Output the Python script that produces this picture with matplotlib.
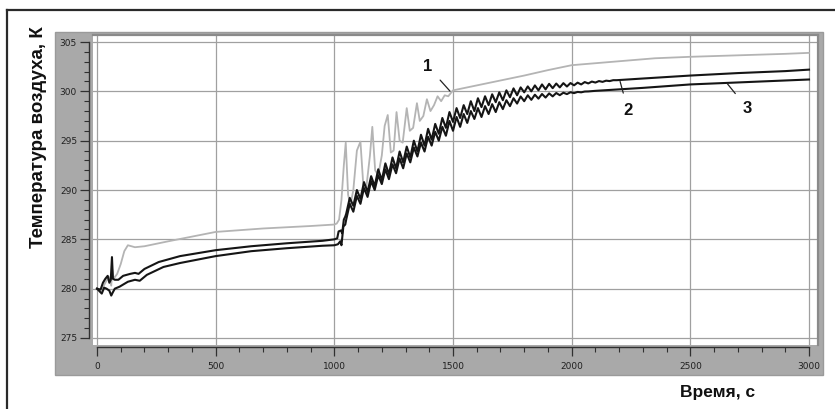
import numpy as np
import matplotlib
matplotlib.use("Agg")
import matplotlib.pyplot as plt
from matplotlib.patches import Rectangle
from matplotlib.lines import Line2D

# Curve 1 (light gray)
t1 = [0, 20, 35, 50, 60, 64, 70, 85, 100, 115, 130, 160, 200, 300, 500, 700, 900,
      1000, 1010, 1020, 1030, 1040, 1048, 1058, 1068, 1080, 1095, 1110, 1122, 1135,
      1150, 1160, 1172, 1185, 1200, 1212, 1225, 1238, 1250, 1262, 1275, 1288, 1305,
      1318, 1332, 1348, 1360, 1375, 1390, 1405, 1420, 1435, 1450, 1465, 1480, 1500,
      1600, 1700, 1800, 1900, 2000, 2100, 2200, 2350, 2500, 2700, 2900, 3000]
T1 = [280.0, 279.9, 280.6, 281.2, 280.3, 282.0, 281.0, 281.5, 282.5, 283.8, 284.4,
      284.2, 284.3, 284.8, 285.75, 286.1, 286.35,
      286.5, 286.6, 287.0, 289.0, 292.5, 294.8, 289.5, 288.5, 290.0, 294.0, 294.9,
      290.5, 290.3, 293.5, 296.4, 292.0, 291.5, 293.5, 296.5, 297.6, 293.8, 294.0,
      297.9, 295.0, 294.8, 298.3, 296.0, 296.3, 298.8, 297.0, 297.5, 299.2, 298.0,
      298.6, 299.5, 299.0, 299.6, 299.5, 300.1,
      300.6, 301.1, 301.6, 302.15, 302.65, 302.85, 303.05, 303.35, 303.5, 303.65,
      303.8, 303.9]

# Curve 2 (black, upper)
t2 = [0, 15, 25, 35, 45, 52, 58, 63, 67, 75, 90, 110, 140, 160, 175, 200, 260, 350,
      500, 650, 800, 950, 1000, 1012, 1018, 1028, 1033, 1040, 1046,
      1050, 1065, 1080, 1095, 1110, 1125, 1140, 1155, 1170, 1185, 1200, 1215, 1230,
      1245, 1260, 1275, 1290, 1305, 1320, 1335, 1350, 1365, 1380, 1395, 1410, 1425,
      1440, 1455, 1470, 1485, 1500, 1515, 1530, 1545, 1560, 1575, 1590, 1605, 1620,
      1635, 1650, 1665, 1680, 1695, 1710, 1725, 1740, 1755, 1770, 1785, 1800, 1815,
      1830, 1845, 1860, 1875, 1890, 1905, 1920, 1935, 1950, 1965, 1980, 1995, 2010,
      2025, 2040, 2055, 2070, 2085, 2100, 2115, 2130, 2145, 2160, 2175, 2190,
      2300, 2500, 2700, 2900, 3000]
T2 = [280.0, 279.9, 280.6, 281.0, 281.3, 280.6, 280.9, 283.2, 281.0, 280.9, 280.9,
      281.3, 281.5, 281.6, 281.5, 282.0, 282.7, 283.3, 283.9, 284.3, 284.6, 284.85,
      285.0, 285.1, 285.8, 285.9, 285.6, 287.0, 287.3,
      287.6, 289.2, 288.4, 290.0, 289.1, 290.8, 289.8, 291.4, 290.4, 292.1, 291.0,
      292.7, 291.6, 293.3, 292.2, 293.9, 292.8, 294.4, 293.3, 295.0, 293.9, 295.6,
      294.5, 296.2, 295.1, 296.7, 295.7, 297.3, 296.3, 297.9, 296.9, 298.3, 297.3,
      298.6, 297.7, 299.0, 298.0, 299.3, 298.4, 299.5, 298.6, 299.7, 298.9, 299.9,
      299.1, 300.1, 299.4, 300.3, 299.6, 300.4, 299.9, 300.5, 300.0, 300.6, 300.1,
      300.7, 300.2, 300.76, 300.32, 300.79, 300.40, 300.83, 300.49, 300.84, 300.61,
      300.88, 300.70, 300.94, 300.80, 300.99, 300.89, 301.04, 300.96, 301.08, 301.04,
      301.13, 301.13,
      301.3, 301.6, 301.85, 302.05, 302.2]

# Curve 3 (black, lower)
t3 = [0, 12, 20, 30, 40, 52, 60, 66, 75, 95, 130, 160, 180, 210, 280, 350, 500, 650,
      800, 950, 1000, 1015, 1025, 1030, 1038, 1046,
      1050, 1065, 1080, 1095, 1110, 1125, 1140, 1155, 1170, 1185, 1200, 1215, 1230,
      1245, 1260, 1275, 1290, 1305, 1320, 1335, 1350, 1365, 1380, 1395, 1410, 1425,
      1440, 1455, 1470, 1485, 1500, 1515, 1530, 1545, 1560, 1575, 1590, 1605, 1620,
      1635, 1650, 1665, 1680, 1695, 1710, 1725, 1740, 1755, 1770, 1785, 1800, 1815,
      1830, 1845, 1860, 1875, 1890, 1905, 1920, 1935, 1950, 1965, 1980, 1995, 2010,
      2025, 2040, 2055, 2070, 2085, 2100,
      2200, 2300, 2500, 2700, 2900, 3000]
T3 = [280.0, 279.7, 279.5, 280.1, 280.0, 279.8, 279.3, 279.6, 280.0, 280.2, 280.7,
      280.9, 280.8, 281.4, 282.2, 282.6, 283.3, 283.8, 284.1, 284.35, 284.4, 284.5,
      284.8, 284.4, 286.3, 286.5,
      287.0, 288.6, 287.8, 289.4, 288.6, 290.2, 289.3, 290.9, 290.0, 291.5, 290.6,
      292.1, 291.1, 292.6, 291.7, 293.2, 292.2, 293.7, 292.8, 294.3, 293.4, 294.8,
      293.9, 295.4, 294.5, 295.9, 295.0, 296.4, 295.5, 297.0, 296.0, 297.4, 296.4,
      297.7, 296.8, 298.0, 297.2, 298.3, 297.4, 298.5, 297.7, 298.7, 297.9, 298.9,
      298.2, 299.1, 298.5, 299.3, 298.76, 299.48, 299.0, 299.6, 299.14, 299.66,
      299.26, 299.73, 299.37, 299.79, 299.49, 299.83, 299.61, 299.86, 299.72, 299.91,
      299.82, 299.94, 299.9, 299.98, 299.99, 300.02, 300.05,
      300.2, 300.35, 300.7, 300.9, 301.1, 301.2]

x_ticks = [0, 500, 1000, 1500, 2000, 2500, 3000]
y_ticks = [275, 280, 285, 290, 295, 300, 305]

W, H = 835, 409
fig = plt.figure(figsize=(W / 100, H / 100), dpi=100)
fig.patch.set_facecolor("white")

# outer frame (left and top only are visible)
fig.add_artist(Line2D([7 / W, 7 / W], [0, 1 - 10 / H], color="#2a2a2a", lw=1.6))
fig.add_artist(Line2D([7 / W, 1], [1 - 10 / H, 1 - 10 / H], color="#2a2a2a", lw=1.6))

# gray chart panel
fig.add_artist(Rectangle((55 / W, 1 - 375 / H), 768 / W, 343 / H,
                         transform=fig.transFigure, facecolor="#a9a9a9",
                         edgecolor="#9a9a9a", lw=1, zorder=0))

ax = fig.add_axes([93 / W, 1 - 345 / H, 725 / W, 310 / H])
ax.set_facecolor("white")
ax.set_zorder(2)

ax.plot(t1, T1, color="#b4b4b4", lw=1.3, zorder=3)
ax.plot(t2, T2, color="#151515", lw=1.5, zorder=4)
ax.plot(t3, T3, color="#151515", lw=1.5, zorder=4)

ax.set_xlim(-16.9, 3037.9)
ax.set_ylim(274.29, 305.71)
ax.set_xticks(x_ticks)
ax.set_yticks(y_ticks)
ax.set_xticks(np.arange(0, 3001, 100), minor=True)
ax.set_yticks(np.arange(275, 306, 1), minor=True)
ax.grid(True, which="major", color="#a0a0a0", lw=0.9)
ax.set_axisbelow(True)

for s in ["top", "right"]:
    ax.spines[s].set_color("#8a8a8a")
    ax.spines[s].set_linewidth(1.6)
ax.spines["left"].set_position(("outward", 3))
ax.spines["left"].set_bounds(275, 305)
ax.spines["bottom"].set_position(("outward", 1.5))
ax.spines["bottom"].set_bounds(0, 3000)
for s in ["left", "bottom"]:
    ax.spines[s].set_color("#303030")
    ax.spines[s].set_linewidth(1.0)

ax.tick_params(axis="both", which="major", direction="out", length=6.5, width=0.9,
               color="#303030", labelsize=6.5, labelcolor="#202020")
ax.tick_params(axis="both", which="minor", direction="out", length=3.5, width=0.8,
               color="#303030")
ax.tick_params(axis="y", which="major", pad=2)
ax.tick_params(axis="x", which="major", pad=4)

lab_font = dict(family="Liberation Sans", fontsize=12, fontweight="bold", color="#111111")
ax.annotate("1", xy=(1487, 300.03), xytext=(1395, 302.5), ha="center", va="center",
            arrowprops=dict(arrowstyle="-", color="#222222", lw=0.9, shrinkA=5, shrinkB=0),
            zorder=6, **lab_font)
ax.annotate("2", xy=(2204, 301.0), xytext=(2237, 298.1), ha="center", va="center",
            arrowprops=dict(arrowstyle="-", color="#222222", lw=0.9, shrinkA=5, shrinkB=0),
            zorder=6, **lab_font)
ax.annotate("3", xy=(2655, 300.8), xytext=(2739, 298.3), ha="center", va="center",
            arrowprops=dict(arrowstyle="-", color="#222222", lw=0.9, shrinkA=5, shrinkB=0),
            zorder=6, **lab_font)

fig.text(39 / W, 1 - 137 / H, "Температура воздуха, К", rotation=90, ha="center",
         va="center", family="Liberation Sans", fontsize=13.5, fontweight="bold",
         color="#111111")
fig.text(718 / W, 1 - 393 / H, "Время, с", ha="center", va="center",
         family="Liberation Sans", fontsize=12.5, fontweight="bold", color="#111111")

fig.savefig("out.png", dpi=100, facecolor="white")
